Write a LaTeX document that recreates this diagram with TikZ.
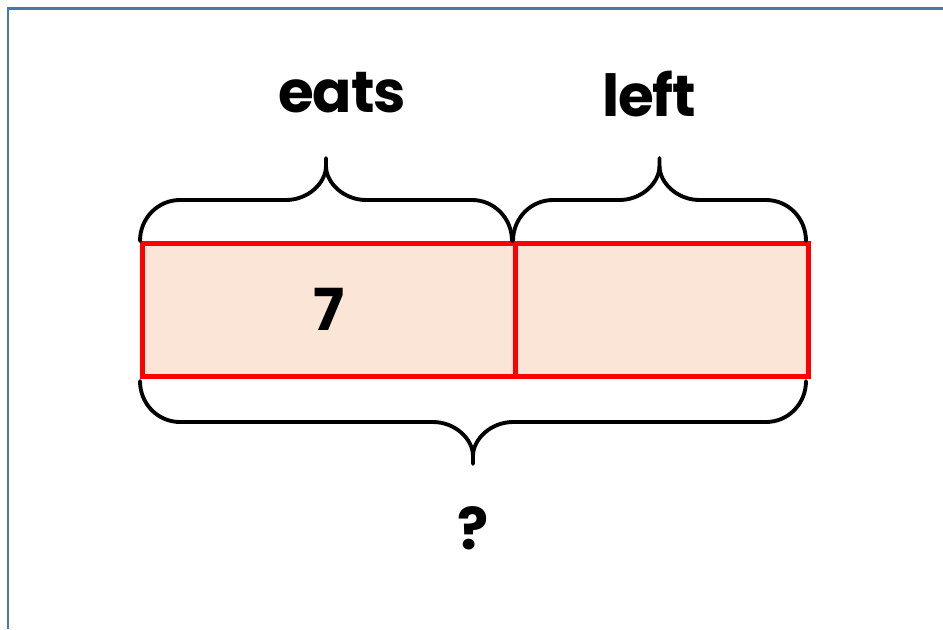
\documentclass[tikz,border=0pt]{standalone}
\usepackage{fontspec}
\setmainfont{Poppins}[LetterSpace=-2]
\usepackage{tikz}
\definecolor{boxfill}{RGB}{251,229,214}
\definecolor{framecol}{RGB}{74,120,170}
% curly brace between x1 and x2 at height y, d=-1 opens up, d=1 opens down
\newcommand{\curly}[4]{%
\draw[bracket] (#1,#3) .. controls (#1,#3+23*#4) and (#1+18,#3+41*#4) .. (#1+40,#3+41*#4)
 -- ({(#1+#2)/2-40},#3+41*#4) .. controls ({(#1+#2)/2-18},#3+41*#4) and ({(#1+#2)/2},#3+58*#4) .. ({(#1+#2)/2},#3+75*#4)
 -- ({(#1+#2)/2},#3+83*#4);
\draw[bracket] ({(#1+#2)/2},#3+75*#4) .. controls ({(#1+#2)/2},#3+58*#4) and ({(#1+#2)/2+18},#3+41*#4) .. ({(#1+#2)/2+40},#3+41*#4)
 -- (#2-40,#3+41*#4) .. controls (#2-18,#3+41*#4) and (#2,#3+23*#4) .. (#2,#3);}

\begin{document}
\begin{tikzpicture}[x=0.02cm,y=-0.02cm,
	part/.style={draw=red,fill=boxfill,line width=2.6pt,minimum height=2.66cm,
	anchor=north west,inner sep=0pt,font=\bfseries\fontsize{33}{40}\selectfont},
	word/.style={anchor=base,inner sep=0pt,font=\bfseries\fontsize{33}{40}\selectfont},
	bracket/.style={line width=2.2pt,line cap=round}]
\useasboundingbox (0,0) rectangle (943,629);
\draw[framecol, line width=1.4pt] (8,629) -- (8,8.5) -- (943,8.5);
\node[part, minimum width=7.46cm] (eats box) at (140,241) {7};
\node[part, minimum width=5.86cm] (left box) at (513,241) {};
\curly{140}{512}{241}{-1}
\curly{513}{806}{241}{-1}
\curly{140}{806}{381}{1}
\node[word] (eats) at (342,112) {eats};
\node[word] (left) at (649,116) {left};
\node[word] (whole) at (473,549) {?};
\end{tikzpicture}
\end{document}
